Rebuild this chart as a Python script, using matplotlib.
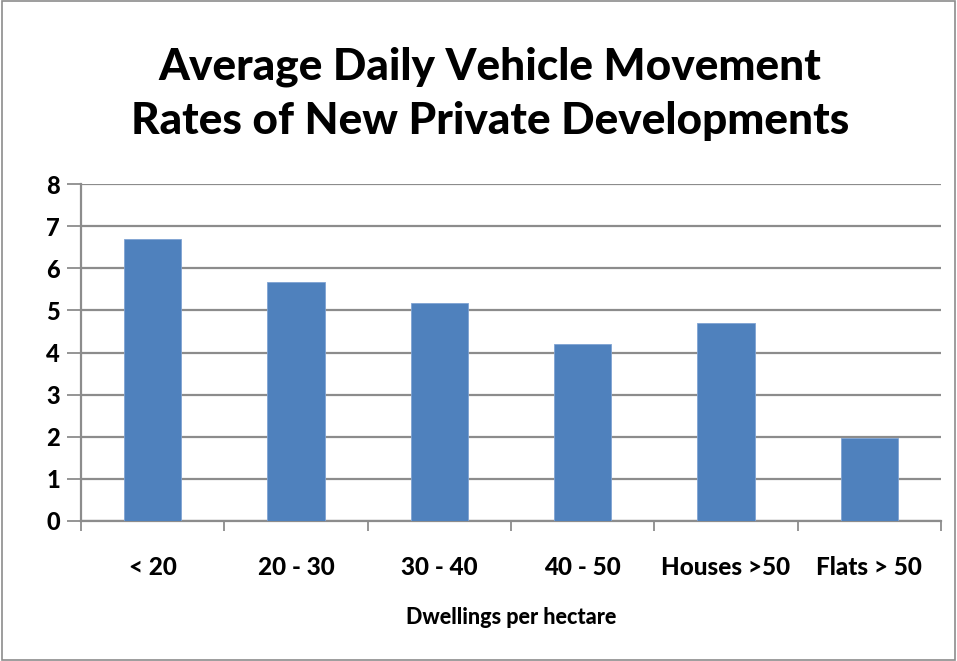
import matplotlib.pyplot as plt
from matplotlib.patches import Rectangle

plt.rcParams['font.family'] = ['Lato', 'DejaVu Sans']
plt.rcParams['font.weight'] = 'black'

categories = ['< 20', '20 - 30', '30 - 40', '40 - 50', 'Houses >50', 'Flats > 50']
rates = [6.7, 5.68, 5.18, 4.2, 4.7, 1.96]
y_ticks = [0, 1, 2, 3, 4, 5, 6, 7, 8]

fig = plt.figure(figsize=(9.57, 6.61), dpi=100)
ax = fig.add_axes([81 / 957, 1 - 521 / 661, 860 / 957, 337 / 661])

x = list(range(len(categories)))
ax.bar(x, rates, width=0.4, color='#4F81BD', edgecolor='#7FA3D3', linewidth=0.6, zorder=3)

ax.set_xlim(-0.5, len(categories) - 0.5)
ax.set_ylim(0, 8)
ax.set_yticks(y_ticks)
ax.set_yticklabels([str(t) for t in y_ticks], fontsize=17, fontweight='black')
ax.yaxis.grid(True, color='#8C8C8C', linewidth=1.6, zorder=0)
ax.set_axisbelow(True)

# category boundaries as tick marks
ax.set_xticks([i - 0.5 for i in range(len(categories) + 1)], minor=False)
ax.set_xticklabels([])
ax.set_xticks(x, minor=True)
ax.set_xticklabels(categories, minor=True, fontsize=17.5, fontweight='black')
ax.tick_params(axis='x', which='major', length=7, width=1.3, color='#8C8C8C')
ax.tick_params(axis='x', which='minor', length=0, pad=25)
ax.tick_params(axis='y', length=10, width=1.3, color='#8C8C8C', pad=5)

for s in ['top', 'right']:
    ax.spines[s].set_visible(False)
ax.spines['left'].set_color('#8C8C8C')
ax.spines['left'].set_linewidth(1.6)
ax.spines['bottom'].set_color('#8C8C8C')
ax.spines['bottom'].set_linewidth(1.6)

ax.set_xlabel('Dwellings per hectare', fontsize=15.5, fontweight='black', labelpad=20)

fig.text(490 / 957, 1 - 94 / 661,
         'Average Daily Vehicle Movement\nRates of New Private Developments',
         ha='center', va='center', fontsize=31.8, fontweight='black', linespacing=1.42)

fig.patches.append(Rectangle((0.002, 0.002), 0.996, 0.996, transform=fig.transFigure,
                             fill=False, edgecolor='#8C8C8C', linewidth=1.2))

fig.savefig('out.png', dpi=100)
